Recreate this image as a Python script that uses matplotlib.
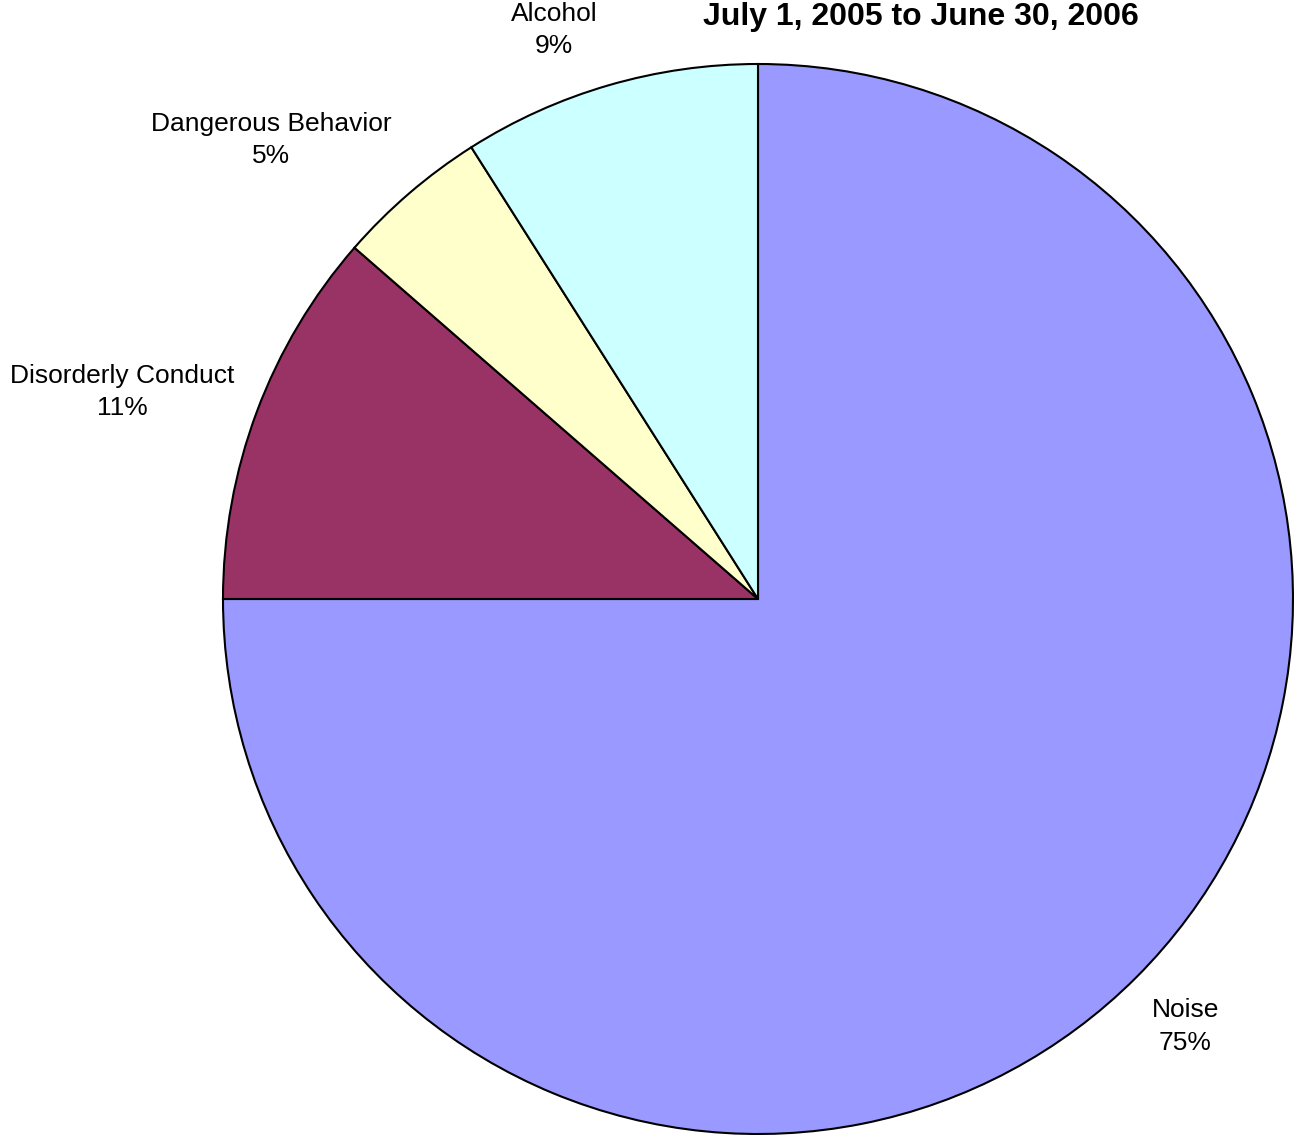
"""
Incident categories pie, July 2005 - June 2006
"""

import matplotlib
matplotlib.use("Agg")
import matplotlib.pyplot as plt
import numpy as np

plt.rcParams['font.family'] = ['Liberation Sans', 'DejaVu Sans']

# data (percent)
categories = ["Noise", "Disorderly Conduct", "Dangerous Behavior", "Alcohol"]
shares = [75.0, 11.4, 4.6, 9.0]
colors = ["#9999FF", "#993366", "#FFFFCC", "#CCFFFF"]
title = "July 1, 2005 to June 30, 2006"

# label placement (radius factor, angle nudge in degrees) - excel style
label_dist = [1.13, 1.25, 1.25, 1.13]
label_nudge = [0, 2.5, 6, 3.5]

W, H = 1294, 1135
fig = plt.figure(figsize=(W / 100, H / 100), dpi=100)

# pie centre ~ (758, 599) px, radius ~ 535 px
cx, cy, r = 758, 599, 535
ax = fig.add_axes([(cx - r) / W, (H - cy - r) / H, 2 * r / W, 2 * r / H])

wedges, _ = ax.pie(shares, colors=colors, startangle=90, counterclock=False,
                   wedgeprops=dict(edgecolor="black", linewidth=1.5))

for w, name, s, d, nud in zip(wedges, categories, shares, label_dist, label_nudge):
    mid = np.deg2rad((w.theta1 + w.theta2) / 2 + nud)
    ax.text(d * np.cos(mid), d * np.sin(mid), f"{name}\n{round(s):.0f}%",
            ha="center", va="center", fontsize=19, linespacing=1.45,
            clip_on=False)

ax.set_xlim(-1, 1)
ax.set_ylim(-1, 1)
ax.set_aspect("equal")

fig.text(921 / W, 1 - 17 / H, title, ha="center", va="center",
         fontsize=23, fontweight="bold")

fig.savefig("out.png", dpi=100)
